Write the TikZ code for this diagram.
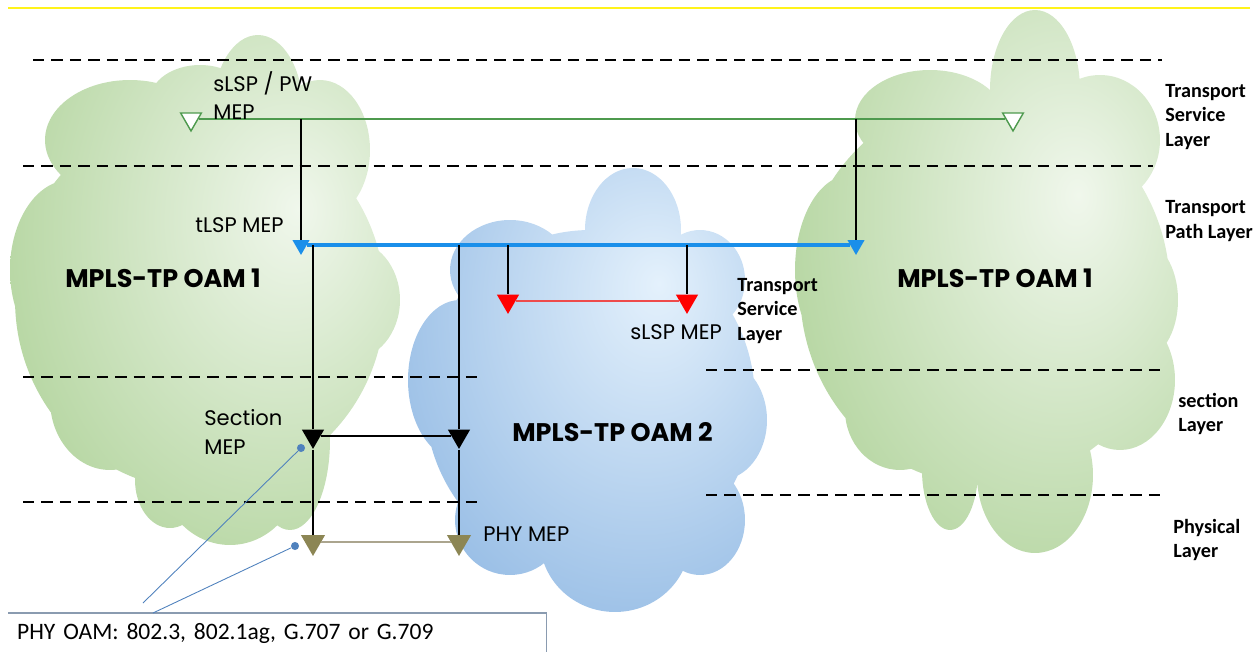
\documentclass[tikz,border=0pt]{standalone}
\usepackage{fontspec}
\setmainfont{Carlito}
\newfontfamily\mepfont{Poppins}
\usepackage{xcolor}
\usepackage{tikz}
\usetikzlibrary{shapes.geometric}
\usetikzlibrary{arrows}

\definecolor{greenD}{HTML}{9DC882}
\definecolor{greenL}{HTML}{F0F7EC}
\definecolor{blueD}{HTML}{78A8DC}
\definecolor{blueL}{HTML}{E4F1FC}
\definecolor{pwgreen}{HTML}{4E9A4E}
\definecolor{tlspblue}{HTML}{1A8FEA}
\definecolor{slspred}{HTML}{FF0000}
\definecolor{slspline}{HTML}{EE4B4B}
\definecolor{phyolive}{HTML}{8C8654}
\definecolor{phyline}{HTML}{ABA58E}
\definecolor{calloutblue}{HTML}{4F81BD}
\definecolor{boxline}{HTML}{8A9BB0}

\pgfdeclareradialshading{greencloud}{\pgfpoint{12bp}{8bp}}{color(0bp)=(greenL); color(50bp)=(greenD); color(100bp)=(greenD)}
\pgfdeclareradialshading{bluecloud}{\pgfpoint{10bp}{12bp}}{color(0bp)=(blueL); color(52bp)=(blueD); color(100bp)=(blueD)}

\tikzset{
    mep/.style = {regular polygon, regular polygon sides = 3, shape border rotate = 180, inner sep = 0pt},
    sepline/.style = {line width = 1.2pt, dash pattern = on 6.5pt off 4pt},
    meptext/.style = {font = \mepfont\fontsize{12}{16}\selectfont, align = left, anchor = west, inner sep = 0pt},
    oamtext/.style = {font = \mepfont\fontsize{14.5}{17}\selectfont\bfseries, anchor = west, inner sep = 0pt},
    layertext/.style = {font = \fontsize{11.5}{14}\selectfont\bfseries, align = left, anchor = west, inner sep = 0pt}
}

\begin{document}
\begin{tikzpicture}[x = 0.02cm, y = -0.02cm]
        \useasboundingbox (0, 0) rectangle (1259, 652);
        \draw[yellow!90!white, line width = 0.6pt] (8, 8) -- (1250, 8);

        % clouds
        \shade[shading = greencloud] (200, 300) ellipse [x radius = 3.7cm, y radius = 3.8cm]
            (258, 110) ellipse [x radius = 0.9cm, y radius = 1.5cm]
            (130, 140) ellipse [x radius = 1.7cm, y radius = 1.2cm]
            (320, 150) ellipse [x radius = 1.0cm, y radius = 1.4cm]
            (350, 300) ellipse [x radius = 1.0cm, y radius = 1.2cm]
            (70, 270) ellipse [x radius = 1.2cm, y radius = 1.8cm]
            (110, 400) ellipse [x radius = 1.2cm, y radius = 1.4cm]
            (170, 480) ellipse [x radius = 0.7cm, y radius = 0.96cm]
            (230, 470) ellipse [x radius = 1.4cm, y radius = 1.5cm]
            (290, 440) ellipse [x radius = 0.8cm, y radius = 1.8cm]
            (200, 100) ellipse [x radius = 1.0cm, y radius = 0.7cm];
        \shade[shading = greencloud] (985, 290) ellipse [x radius = 3.7cm, y radius = 3.9cm]
            (1035, 90) ellipse [x radius = 0.9cm, y radius = 1.6cm]
            (930, 120) ellipse [x radius = 1.5cm, y radius = 1.0cm]
            (1100, 140) ellipse [x radius = 1.2cm, y radius = 1.3cm]
            (850, 270) ellipse [x radius = 1.1cm, y radius = 1.9cm]
            (900, 410) ellipse [x radius = 1.1cm, y radius = 1.2cm]
            (950, 470) ellipse [x radius = 0.56cm, y radius = 1.2cm]
            (1035, 475) ellipse [x radius = 1.16cm, y radius = 1.56cm]
            (1120, 380) ellipse [x radius = 1.1cm, y radius = 1.4cm]
            (1140, 300) ellipse [x radius = 0.76cm, y radius = 1.2cm];
        \shade[shading = bluecloud] (590, 400) ellipse [x radius = 3.3cm, y radius = 3.4cm]
            (633, 230) ellipse [x radius = 0.96cm, y radius = 1.24cm]
            (510, 270) ellipse [x radius = 1.2cm, y radius = 1.0cm]
            (700, 280) ellipse [x radius = 0.9cm, y radius = 1.0cm]
            (460, 380) ellipse [x radius = 1.04cm, y radius = 1.6cm]
            (510, 520) ellipse [x radius = 1.1cm, y radius = 1.1cm]
            (615, 540) ellipse [x radius = 1.5cm, y radius = 1.44cm]
            (700, 520) ellipse [x radius = 0.9cm, y radius = 1.1cm]
            (720, 420) ellipse [x radius = 0.94cm, y radius = 1.2cm];

        % layer borders
        \draw[sepline] (33, 60) -- (1162, 60);
        \draw[sepline] (23, 166) -- (1153, 166);
        \draw[sepline] (23, 377) -- (480, 377);
        \draw[sepline] (706, 370) -- (1162, 370);
        \draw[sepline] (23, 502) -- (480, 502);
        \draw[sepline] (706, 495) -- (1162, 495);

        % MEPs
        \node[mep, draw = pwgreen, fill = white, line width = 0.8pt, minimum size = 13.6pt] (pwA) at (191, 119) {};
        \node[mep, draw = pwgreen, fill = white, line width = 0.8pt, minimum size = 13.6pt] (pwB) at (1013, 119) {};
        \node[mep, fill = tlspblue, minimum size = 11.3pt] (tlspA) at (301, 245) {};
        \node[mep, fill = tlspblue, minimum size = 11.3pt] (tlspB) at (856, 245) {};
        \node[mep, fill = slspred, minimum size = 14.7pt] (slspA) at (508, 301) {};
        \node[mep, fill = slspred, minimum size = 14.7pt] (slspB) at (687, 301) {};
        \node[mep, fill = black, minimum size = 14.7pt] (secA) at (313, 436) {};
        \node[mep, fill = black, minimum size = 14.7pt] (secB) at (459, 436) {};
        \node[mep, fill = phyolive, minimum size = 15.9pt] (phyA) at (313, 542) {};
        \node[mep, fill = phyolive, minimum size = 15.9pt] (phyB) at (459, 542) {};

        \coordinate (pwdropA) at (301, 119);
        \coordinate (pwdropB) at (856, 119);
        \coordinate (tdropA) at (313, 245);
        \coordinate (tdropB) at (459, 245);
        \coordinate (tdropC) at (508, 245);
        \coordinate (tdropD) at (687, 245);

        \draw[pwgreen, line width = 0.8pt] (pwA.east) -- (pwB.west);
        \draw[line width = 0.8pt] (pwdropA) -- (tlspA.north);
        \draw[line width = 0.8pt] (pwdropB) -- (tlspB.north);
        \draw[tlspblue, line width = 2.2pt] (tlspA.east) -- (tlspB.west);
        \draw[line width = 0.8pt] (tdropA) -- (secA.north);
        \draw[line width = 0.8pt] (secA.south) -- (phyA.north);
        \draw[line width = 0.8pt] (tdropB) -- (secB.north);
        \draw[line width = 0.8pt] (secB.south) -- (phyB.north);
        \draw[line width = 0.8pt] (tdropC) -- (slspA.north);
        \draw[line width = 0.8pt] (tdropD) -- (slspB.north);
        \draw[slspline, line width = 1pt] (slspA.east) -- (slspB.west);
        \draw[line width = 0.8pt] (secA.east) -- (secB.west);
        \draw[phyline, line width = 1pt] (phyA.east) -- (phyB.west);

        % labels
        \node[meptext] (pwlabel) at (213, 96) {sLSP / PW\\MEP};
        \node[meptext] (tlsplabel) at (195, 225) {tLSP MEP};
        \node[meptext] (slsplabel) at (630, 332) {sLSP MEP};
        \node[meptext] (seclabel) at (204, 432) {Section\\MEP};
        \node[meptext] (phylabel) at (483, 534) {PHY MEP};
        \node[oamtext] (oamA) at (65, 278) {MPLS-TP OAM 1};
        \node[oamtext] (oamB) at (897, 278) {MPLS-TP OAM 1};
        \node[oamtext] (oamC) at (512, 432) {MPLS-TP OAM 2};

        \node[layertext] (tsl) at (1165, 117) {Transport\\Service\\Layer};
        \node[layertext] (tpl) at (1165, 221) {Transport\\Path Layer};
        \node[layertext] (tslmid) at (737, 311) {Transport\\Service\\Layer};
        \node[layertext] (secl) at (1178, 414) {section\\Layer};
        \node[layertext] (phyl) at (1173, 540) {Physical\\Layer};

        % callout
        \node[anchor = north west, text width = 296pt, inner xsep = 5pt, minimum height = 22.7pt, font = \fontsize{13.4}{16}\selectfont] (phyoam) at (8, 613) {PHY OAM: 802.3, 802.1ag, G.707 or G.709};
        \draw[boxline, line width = 0.8pt] (phyoam.north west) -- (phyoam.north east) -- (phyoam.south east);
        \node[circle, fill = calloutblue, inner sep = 0pt, minimum size = 4.6pt] (dotA) at (301, 448) {};
        \node[circle, fill = calloutblue, inner sep = 0pt, minimum size = 4.6pt] (dotB) at (295, 546) {};
        \coordinate (tailA) at (143, 603);
        \coordinate (tailB) at (153, 613);
        \draw[calloutblue, line width = 0.5pt] (dotA) -- (tailA);
        \draw[calloutblue, line width = 0.5pt] (dotB) -- (tailB);
\end{tikzpicture}
\end{document}
